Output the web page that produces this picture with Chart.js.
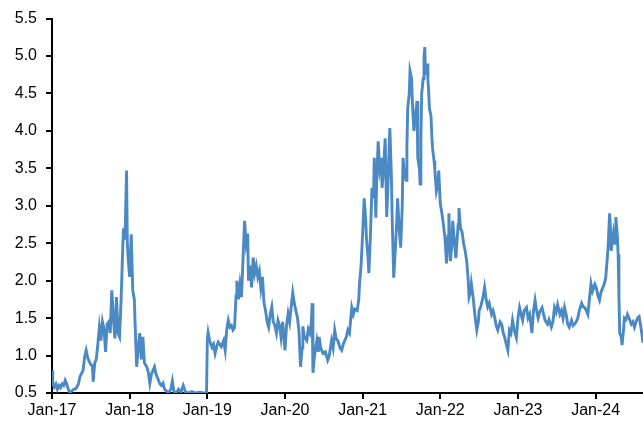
<!DOCTYPE html>
<html>
<head>
<meta charset="utf-8">
<script src="https://cdn.jsdelivr.net/npm/chart.js@4"></script>
<style>
  html, body { margin: 0; padding: 0; background: #ffffff; }
  #wrap { width: 643px; height: 422px; }
</style>
</head>
<body>
<div id="wrap"><canvas id="c" width="643" height="422"></canvas></div>
<script>
// Time in years since Jan-17
const times = [
0.00,0.01,0.03,0.05,0.07,0.09,0.11,0.13,0.15,0.17,0.19,0.21,0.23,0.25,0.28,0.31,0.34,0.36,0.38,0.40,
0.42,0.44,0.46,0.48,0.50,0.52,0.53,0.55,0.57,0.59,0.61,0.63,0.65,0.67,0.69,0.71,0.73,0.75,0.77,0.79,
0.81,0.83,0.85,0.87,0.89,0.91,0.92,0.94,0.96,0.97,0.98,1.00,1.02,1.04,1.06,1.07,1.09,1.11,1.13,1.15,
1.17,1.19,1.22,1.24,1.26,1.28,1.30,1.32,1.34,1.36,1.39,1.41,1.43,1.45,1.48,1.50,1.53,1.55,1.57,1.60,
1.63,1.66,1.69,1.72,1.76,1.80,1.85,1.90,1.95,1.99,2.00,2.01,2.03,2.06,2.08,2.10,2.12,2.14,2.16,2.18,
2.21,2.23,2.25,2.27,2.29,2.31,2.33,2.35,2.37,2.38,2.40,2.42,2.44,2.46,2.48,2.50,2.52,2.53,2.55,2.57,
2.59,2.61,2.63,2.65,2.67,2.69,2.71,2.73,2.75,2.77,2.79,2.81,2.83,2.85,2.87,2.89,2.91,2.93,2.95,2.97,
3.00,3.02,3.04,3.06,3.08,3.10,3.12,3.14,3.16,3.18,3.20,3.22,3.23,3.25,3.28,3.30,3.32,3.34,3.35,3.36,
3.38,3.41,3.43,3.44,3.46,3.49,3.52,3.55,3.57,3.60,3.62,3.64,3.66,3.68,3.71,3.73,3.75,3.77,3.79,3.81,
3.83,3.86,3.88,3.90,3.93,3.95,3.96,3.98,4.00,4.02,4.04,4.05,4.07,4.08,4.10,4.12,4.14,4.15,4.17,4.18,
4.20,4.22,4.24,4.25,4.27,4.29,4.31,4.33,4.35,4.37,4.38,4.40,4.42,4.44,4.45,4.47,4.49,4.51,4.52,4.54,
4.56,4.57,4.58,4.60,4.61,4.63,4.64,4.66,4.68,4.70,4.71,4.73,4.74,4.75,4.76,4.78,4.79,4.80,4.81,4.83,
4.84,4.85,4.86,4.88,4.89,4.90,4.92,4.93,4.95,4.97,4.98,5.00,5.02,5.04,5.06,5.08,5.10,5.11,5.13,5.15,
5.16,5.18,5.20,5.21,5.23,5.24,5.26,5.28,5.30,5.32,5.34,5.36,5.37,5.39,5.40,5.42,5.43,5.45,5.47,5.49,
5.50,5.52,5.55,5.57,5.59,5.61,5.63,5.66,5.68,5.70,5.72,5.74,5.77,5.79,5.81,5.83,5.85,5.87,5.89,5.91,
5.93,5.95,5.98,6.00,6.02,6.04,6.06,6.08,6.11,6.13,6.15,6.18,6.20,6.22,6.24,6.26,6.28,6.31,6.33,6.35,
6.38,6.40,6.43,6.45,6.47,6.49,6.51,6.54,6.56,6.58,6.60,6.62,6.64,6.66,6.69,6.71,6.73,6.75,6.77,6.79,
6.82,6.84,6.86,6.88,6.90,6.92,6.94,6.96,6.99,7.01,7.03,7.05,7.07,7.09,7.11,7.13,7.15,7.16,7.18,7.19,
7.20,7.22,7.23,7.25,7.26,7.28,7.29,7.30,7.31,7.33,7.34,7.36,7.37,7.39,7.41,7.43,7.46,7.48,7.50,7.52,
7.54,7.56,7.58,7.61
];

const values = [
0.80,0.62,0.58,0.62,0.55,0.60,0.57,0.62,0.60,0.67,0.62,0.55,0.50,0.52,0.55,0.56,0.62,0.72,0.76,0.80,
0.98,1.07,0.97,0.92,0.88,0.86,0.65,0.90,0.95,1.15,1.38,1.20,1.45,1.35,1.05,1.42,1.45,1.30,1.87,1.50,
1.23,1.78,1.30,1.25,1.75,2.40,2.70,2.55,3.47,2.50,2.30,2.05,2.62,1.87,1.75,1.43,0.85,1.10,1.30,0.95,
1.25,0.90,0.85,0.78,0.63,0.75,0.80,0.85,0.75,0.70,0.62,0.60,0.63,0.55,0.52,0.50,0.55,0.66,0.52,0.50,
0.55,0.51,0.60,0.51,0.50,0.52,0.50,0.51,0.50,0.50,1.22,1.31,1.20,1.11,1.15,1.03,1.12,1.18,1.15,1.12,
1.20,1.07,1.35,1.47,1.38,1.40,1.34,1.37,1.80,2.00,1.75,1.95,1.78,2.30,2.80,2.50,2.63,2.00,2.20,1.91,
2.31,2.10,2.20,2.05,2.13,1.90,2.05,1.70,1.60,1.45,1.38,1.55,1.65,1.45,1.40,1.30,1.47,1.40,1.24,1.45,
1.07,1.40,1.56,1.45,1.65,1.84,1.70,1.60,1.51,1.33,0.85,1.10,1.39,1.25,1.20,1.35,1.30,1.45,1.70,0.77,
1.00,1.20,1.05,1.25,1.10,1.03,1.05,0.94,1.00,1.20,1.10,1.34,1.22,1.20,1.10,1.07,1.15,1.20,1.25,1.34,
1.30,1.64,1.55,1.62,1.60,1.75,1.96,2.20,2.63,3.10,2.80,2.55,2.30,2.10,2.60,3.24,3.10,3.64,2.84,3.30,
3.86,3.50,3.64,3.24,3.50,3.90,2.85,3.40,4.04,3.40,2.85,2.04,2.40,2.80,3.10,2.70,2.44,3.00,3.64,3.40,
3.34,3.80,4.30,4.50,4.80,4.70,4.40,4.00,4.20,4.40,3.64,3.50,3.29,3.90,4.50,4.70,4.97,5.12,4.75,4.90,
4.70,4.53,4.30,4.20,3.95,3.77,3.60,3.47,3.20,3.30,3.47,3.03,2.90,2.75,2.57,2.23,2.60,2.90,2.26,2.50,
2.80,2.55,2.30,2.45,2.75,2.97,2.70,2.65,2.50,2.40,2.26,2.00,1.78,1.85,1.96,1.80,1.70,1.50,1.34,1.45,
1.60,1.65,1.78,1.91,1.75,1.65,1.70,1.55,1.60,1.51,1.40,1.34,1.45,1.42,1.30,1.24,1.15,1.07,1.34,1.30,
1.47,1.35,1.24,1.50,1.64,1.55,1.47,1.60,1.64,1.50,1.55,1.30,1.60,1.74,1.60,1.50,1.58,1.64,1.55,1.47,
1.42,1.48,1.38,1.45,1.64,1.58,1.68,1.55,1.60,1.50,1.64,1.55,1.42,1.38,1.47,1.40,1.42,1.45,1.50,1.60,
1.70,1.65,1.64,1.60,1.55,1.75,1.96,1.86,1.95,1.90,1.80,1.74,1.85,1.90,1.95,2.04,2.30,2.44,2.90,2.72,
2.40,2.55,2.64,2.50,2.85,2.60,2.35,1.80,1.30,1.25,1.14,1.35,1.50,1.48,1.55,1.50,1.42,1.45,1.38,1.45,
1.50,1.52,1.40,1.17
];

const tickPositions = [0, 1, 2, 3, 4, 5, 6, 7];
const tickLabels = ['Jan-17', 'Jan-18', 'Jan-19', 'Jan-20', 'Jan-21', 'Jan-22', 'Jan-23', 'Jan-24'];
const yTicks = [0.5, 1.0, 1.5, 2.0, 2.5, 3.0, 3.5, 4.0, 4.5, 5.0, 5.5];

const points = times.map((t, i) => ({ x: t, y: values[i] }));

const fontSpec = { family: "'Liberation Sans', Arial, sans-serif", size: 16 };

new Chart(document.getElementById('c'), {
  type: 'line',
  data: {
    datasets: [{
      data: points,
      borderColor: 'rgb(74,137,196)',
      borderWidth: 2.9,
      pointRadius: 0,
      tension: 0,
      fill: false
    }]
  },
  options: {
    responsive: false,
    animation: false,
    events: [],
    layout: { padding: { top: 17, right: 0, bottom: 0, left: 0 } },
    plugins: { legend: { display: false }, tooltip: { enabled: false } },
    scales: {
      x: {
        type: 'linear',
        min: 0,
        max: 7.61,
        afterBuildTicks: (s) => { s.ticks = tickPositions.map(v => ({ value: v })); },
        afterFit: (s) => { s.height = 29; },
        ticks: {
          autoSkip: false,
          maxRotation: 0,
          padding: 2,
          color: '#000',
          font: fontSpec,
          callback: (v) => tickLabels[tickPositions.indexOf(v)]
        },
        grid: { drawOnChartArea: false, drawTicks: true, tickLength: 6, color: '#000', lineWidth: 2 },
        border: { color: '#000', width: 2 }
      },
      y: {
        min: 0.5,
        max: 5.5,
        afterBuildTicks: (s) => { s.ticks = yTicks.map(v => ({ value: v })); },
        afterFit: (s) => { s.width = 52; },
        ticks: {
          padding: 9,
          color: '#000',
          font: fontSpec,
          callback: (v) => v.toFixed(1)
        },
        grid: { drawOnChartArea: false, drawTicks: true, tickLength: 6, color: '#000', lineWidth: 2 },
        border: { color: '#000', width: 2 }
      }
    }
  }
});
</script>
</body>
</html>
